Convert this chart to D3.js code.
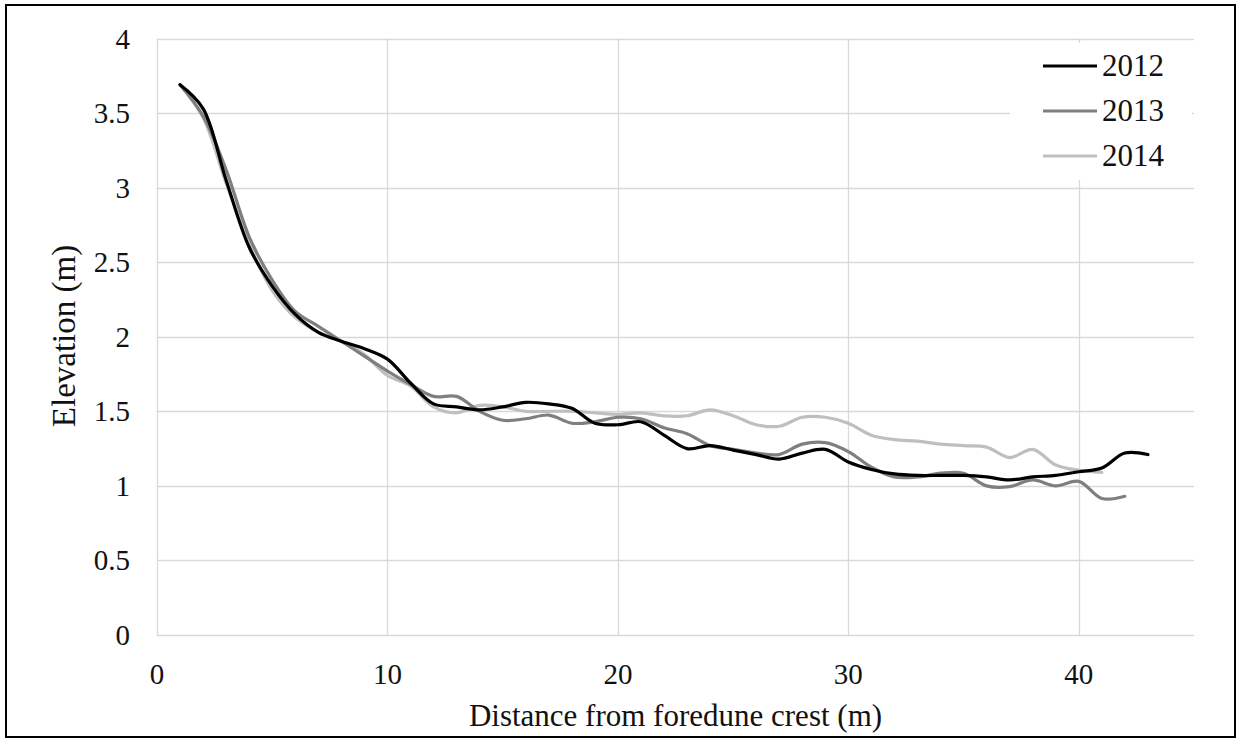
<!DOCTYPE html>
<html>
<head>
<meta charset="utf-8">
<script src="https://cdn.jsdelivr.net/npm/d3@7"></script>
<style>
  body { margin: 0; background: #fff; }
  svg { display: block; }
</style>
</head>
<body>
<script>
// elevation profiles, one value per metre from the foredune crest
const years = ["2012", "2013", "2014"];
const colors = ["#000000", "#7f7f7f", "#bfbfbf"];

const elev2012 = [3.69, 3.53, 3.05, 2.60, 2.34, 2.15, 2.03, 1.97, 1.92, 1.85,
  1.69, 1.55, 1.53, 1.51, 1.53, 1.56, 1.55, 1.52, 1.42, 1.41,
  1.43, 1.34, 1.25, 1.27, 1.24, 1.21, 1.18, 1.22, 1.245, 1.16,
  1.11, 1.08, 1.07, 1.07, 1.07, 1.06, 1.04, 1.06, 1.07, 1.095,
  1.12, 1.22, 1.21];
const elev2013 = [3.69, 3.48, 3.12, 2.67, 2.38, 2.17, 2.07, 1.97, 1.87, 1.77,
  1.68, 1.60, 1.60, 1.50, 1.44, 1.45, 1.475, 1.42, 1.43, 1.46,
  1.45, 1.39, 1.35, 1.27, 1.245, 1.22, 1.21, 1.28, 1.29, 1.23,
  1.125, 1.06, 1.06, 1.085, 1.085, 1.00, 0.995, 1.04, 1.00, 1.03,
  0.915, 0.93];
const elev2014 = [3.69, 3.47, 3.03, 2.62, 2.31, 2.13, 2.03, 1.97, 1.88, 1.74,
  1.67, 1.53, 1.49, 1.54, 1.53, 1.50, 1.50, 1.50, 1.49, 1.48,
  1.49, 1.47, 1.47, 1.51, 1.47, 1.41, 1.40, 1.46, 1.46, 1.42,
  1.34, 1.31, 1.30, 1.28, 1.27, 1.26, 1.19, 1.245, 1.14, 1.105,
  1.09];

const xTicks = [0, 10, 20, 30, 40];
const yTicks = [0, 0.5, 1, 1.5, 2, 2.5, 3, 3.5, 4];

let width = 1241;
let height = 740;
let font = "'Liberation Serif', 'Times New Roman', serif";

let series = [elev2012, elev2013, elev2014].map((vals, i) => ({
  year: years[i],
  color: colors[i],
  points: vals.map((v, j) => ({ x: j + 1, y: v }))
}));

const svg = d3.select("body").append("svg")
  .attr("width", width)
  .attr("height", height)
  .style("font-family", font);

// outer frame
svg.append("rect")
  .attr("x", 6).attr("y", 5)
  .attr("width", 1229).attr("height", 732)
  .attr("fill", "#fff")
  .attr("stroke", "#000")
  .attr("stroke-width", 2);

let x = d3.scaleLinear().domain([0, 45]).range([157, 1194]);
let y = d3.scaleLinear().domain([0, 4]).range([635, 38.5]);

// gridlines
svg.append("g")
  .selectAll("line")
  .data(yTicks)
  .join("line")
  .attr("x1", x(0)).attr("x2", x(45))
  .attr("y1", d => Math.round(y(d)) + 0.5)
  .attr("y2", d => Math.round(y(d)) + 0.5)
  .attr("stroke", "#d9d9d9")
  .attr("stroke-width", 1.3);

svg.append("g")
  .selectAll("line")
  .data(xTicks)
  .join("line")
  .attr("x1", d => Math.round(x(d)) + 0.5)
  .attr("x2", d => Math.round(x(d)) + 0.5)
  .attr("y1", y(4)).attr("y2", y(0))
  .attr("stroke", "#d9d9d9")
  .attr("stroke-width", 1.3);

// tick labels
svg.append("g")
  .selectAll("text")
  .data(yTicks)
  .join("text")
  .attr("x", 130)
  .attr("y", d => y(d) + 10)
  .attr("text-anchor", "end")
  .attr("font-size", 29)
  .attr("fill", "#111")
  .text(d => d);

svg.append("g")
  .selectAll("text")
  .data(xTicks)
  .join("text")
  .attr("x", d => x(d))
  .attr("y", 684)
  .attr("text-anchor", "middle")
  .attr("font-size", 29)
  .attr("fill", "#111")
  .text(d => d);

// axis titles
svg.append("text")
  .attr("x", (x(0) + x(45)) / 2)
  .attr("y", 726)
  .attr("text-anchor", "middle")
  .attr("font-size", 31)
  .attr("fill", "#111")
  .text("Distance from foredune crest (m)");

svg.append("text")
  .attr("transform", `translate(75,336) rotate(-90)`)
  .attr("text-anchor", "middle")
  .attr("font-size", 33)
  .attr("fill", "#111")
  .text("Elevation (m)");

// profiles, smoothed like the spreadsheet lines
let line = d3.line()
  .x(d => x(d.x))
  .y(d => y(d.y))
  .curve(d3.curveCatmullRom.alpha(0.5));

svg.append("g")
  .attr("fill", "none")
  .attr("stroke-width", 3.2)
  .attr("stroke-linejoin", "round")
  .attr("stroke-linecap", "round")
  .selectAll("path")
  .data(series.slice().reverse())
  .join("path")
  .attr("stroke", d => d.color)
  .attr("d", d => line(d.points));

// legend
let legend = svg.append("g");

legend.append("rect")
  .attr("x", 1010).attr("y", 43)
  .attr("width", 182).attr("height", 137)
  .attr("fill", "#fff");

let row = legend.selectAll("g")
  .data(series)
  .join("g")
  .attr("transform", (d, i) => `translate(0,${66 + i * 45})`);

row.append("line")
  .attr("x1", 1043).attr("x2", 1097)
  .attr("stroke", d => d.color)
  .attr("stroke-width", 3.2);

row.append("text")
  .attr("x", 1102)
  .attr("y", 10)
  .attr("font-size", 31)
  .attr("fill", "#111")
  .text(d => d.year);
</script>
</body>
</html>
